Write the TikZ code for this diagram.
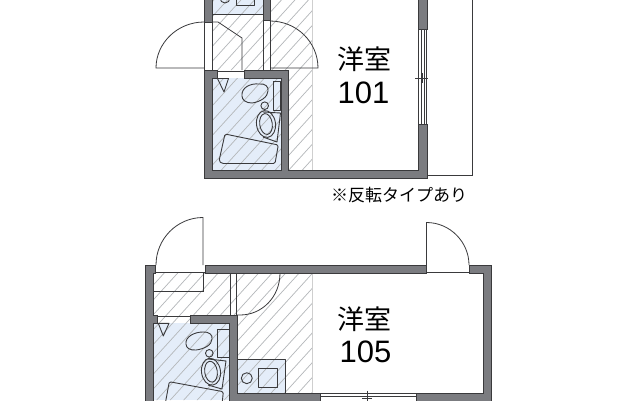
\documentclass[tikz,border=0pt]{standalone}
\usepackage{fontspec}
\setmainfont{Noto Sans CJK JP}
\newfontfamily\digitfont{Liberation Sans}
\definecolor{wallc}{HTML}{7B7C80}
\definecolor{linec}{HTML}{3A3A3C}
\definecolor{bluec}{HTML}{E4EDF9}
\definecolor{hatchc}{HTML}{B4B7BA}
\definecolor{edgec}{HTML}{CFCFCF}
\newcommand{\hatchlines}[1]{\foreach \c in {0,13.5,...,1000}{\draw[hatchline] ({\c+#1},-10) -- ({\c+#1-500},{-10+500*1.1});}}
\tikzset{
 x=1pt,y=-1pt,
 wall/.style={fill=wallc,draw=linec,line width=0.9pt},
 ln/.style={draw=linec,line width=0.8pt},
 fixture/.style={draw=linec,line width=0.9pt,line join=round},
 hatchline/.style={draw=hatchc,line width=0.7pt},
 bigtext/.style={inner sep=0pt,anchor=center,text=black,font=\fontsize{27}{27}\selectfont},
 numtext/.style={inner sep=0pt,anchor=center,text=black,font=\digitfont\fontsize{31}{31}\selectfont},
 notetext/.style={inner sep=0pt,anchor=center,text=black,font=\fontsize{17}{17}\selectfont},
}
\begin{document}
\begin{tikzpicture}
\useasboundingbox (0,0) rectangle (640,400);
\clip (0,0) rectangle (640,400);
\fill[white] (0,0) rectangle (640,400);

%% ---------- upper plan ----------
\fill[bluec] (212,0) rectangle (263,14.5);
\fill[bluec] (212,78) rectangle (281,170);
\begin{scope}
\clip (212,0) rectangle (263,70) (212,78) rectangle (281,170) (263,0) rectangle (312,70) (288,70) rectangle (312,170);
\hatchlines{7}
\end{scope}
\draw[edgec,line width=0.9pt] (312,0) -- (312,170);
% balcony
\draw[ln] (472,0) -- (472,175.5) -- (427,175.5);
% doors
\draw[ln] (204,22) .. controls (177.5,22) and (156,43) .. (156,68) -- (204,68);
\draw[ln] (270,21) .. controls (296.5,21) and (318,42) .. (318,68) -- (270,68);
\draw[ln] (204,22) -- (204,70) (212,22) -- (212,70) (263,21) -- (263,70) (270,21) -- (270,70);
\draw[ln] (212,22) -- (218,22) -- (242,38) -- (242,70);
\draw[ln] (212,14.5) -- (263,14.5);
\draw[ln] (217.5,71) -- (244.5,71);
% walls
\draw[wall] (204,-2) rectangle (212,22);
\draw[wall] (263,-2) rectangle (270,20.5);
\draw[wall] (204,70) -- (217.5,70) -- (217.5,78) -- (212,78) -- (212,170) -- (281,170) -- (281,78) -- (244.5,78) -- (244.5,70) -- (288,70) -- (288,170) -- (418,170) -- (418,124.5) -- (427,124.5) -- (427,178) -- (204,178) -- cycle;
\draw[wall] (418,-2) rectangle (427,29);
% window
\draw[ln] (418.5,29) -- (418.5,124.5) (421,29) -- (421,124.5) (424,29) -- (424,124.5) (426.5,29) -- (426.5,124.5);
\draw[ln] (415,78) -- (428,78) (422,73) -- (422,83);
% fixtures
\draw[fixture] (225,-2) circle (5);
\draw[fixture] (236.7,-2) rectangle (254.3,5);
\draw[fixture] (217.5,78.5) -- (228.5,78.5) -- (224,92) -- cycle;
\draw[fixture] (242,96) .. controls (241,88) and (250,83) .. (259,84) .. controls (265,83) and (269,87) .. (268,91) .. controls (268,97) and (260,102) .. (252,103) .. controls (246,103) and (242,100) .. (242,96) -- cycle;
\draw[fixture] (264.7,105.7) circle (3.8);
\draw[fixture] (273.3,81.7) -- (280.5,81.7) -- (280.5,110) -- (273.3,110) -- cycle;
\draw[fixture] (263,112) -- (280.5,113) -- (277,142) -- (263,137);
\draw[fixture,rotate around={8:(266,124)}] (266,124) ellipse (9.5 and 13.5);
\draw[fixture,rotate around={8:(266,124)}] (266,124) ellipse (6.3 and 10.5);
\draw[fixture,rounded corners=1.5pt] (225,134) -- (278.3,145) -- (275,163.5) -- (222,163.5) -- (219,161) -- cycle;
% labels
\node[bigtext] (room101) at (364.8,59) {洋室};
\node[numtext] (num101) at (363.5,93) {101};
\node[notetext] (note) at (399,195) {※反転タイプあり};

%% ---------- lower plan ----------
\fill[bluec] (153,323) rectangle (229,400);
\fill[bluec] (237,359.5) rectangle (285,393);
\begin{scope}
\clip (153,273) rectangle (312,393) (153,323) rectangle (229,400);
\hatchlines{3}
\end{scope}
\fill[white] (155.5,266) rectangle (205,272);
\draw[edgec,line width=0.9pt] (312,273) -- (312,393);
% entrance door
\draw[ln] (156,265) .. controls (156,239) and (177,217.5) .. (203,217.5) -- (203,265);
\draw[ln] (155.5,272.5) -- (205,272.5);
\draw[ln] (203,273) -- (203,291) -- (153,291);
% inner door
\draw[ln] (230,273) -- (230,315) (236,273) -- (236,315);
\draw[ln] (236,273) -- (280,273) .. controls (280,297) and (262,315) .. (240,315) -- (236,315);
\draw[ln] (157.5,316) -- (190,316);
% balcony door
\draw[ln] (426.5,265) -- (426.5,222.5) .. controls (450,222.5) and (469,242) .. (469,265);
\draw[ln] (426,272.5) -- (469,272.5);
% walls
\draw[wall] (145,402) -- (145,265) -- (155.5,265) -- (155.5,273) -- (153,273) -- (153,315) -- (157.5,315) -- (157.5,323) -- (153,323) -- (153,402) -- cycle;
\draw[wall] (205,265) -- (426,265) -- (426,273) -- (205,273) -- cycle;
\draw[wall] (469,265) -- (491,265) -- (491,402) -- (416,402) -- (416,393) -- (483,393) -- (483,273) -- (469,273) -- cycle;
\draw[wall] (190,315) -- (237,315) -- (237,393) -- (320,393) -- (320,402) -- (229,402) -- (229,323) -- (190,323) -- cycle;
% window
\draw[ln] (320,393.5) -- (416,393.5) (320,396.5) -- (416,396.5);
\draw[ln] (367,390.5) -- (367,401) (362,398) -- (372,398);
% kitchen
\draw[fixture] (237,359.5) -- (285,359.5) -- (285,393);
\draw[fixture] (246.8,378.2) circle (5.5);
\draw[fixture] (258,368) rectangle (277,387);
% bath fixtures
\draw[fixture] (158.3,323.3) -- (169,323.3) -- (163.3,336) -- cycle;
\draw[fixture] (186,344) .. controls (185,337) and (194,332) .. (203,332) .. controls (209,331.5) and (213,335) .. (212,339) .. controls (212,345) and (204,349) .. (196,350) .. controls (190,350.5) and (186,348) .. (186,344) -- cycle;
\draw[fixture] (209.3,353.3) circle (3.8);
\draw[fixture] (217.7,329) -- (229,329) -- (229,357.7) -- (217.7,357.7) -- cycle;
\draw[fixture] (208,359) -- (226,361) -- (222,389) -- (208,385);
\draw[fixture,rotate around={8:(211,371.7)}] (211,371.7) ellipse (9.5 and 13.5);
\draw[fixture,rotate around={8:(211,371.7)}] (211,371.7) ellipse (6.3 and 10.5);
\draw[fixture,rounded corners=1.5pt] (169.3,381.7) -- (223.3,391.7) -- (222,405) -- (165,405) -- cycle;
% labels
\node[bigtext] (room105) at (364.5,319) {洋室};
\node[numtext] (num105) at (365.5,352) {105};
\end{tikzpicture}
\end{document}
